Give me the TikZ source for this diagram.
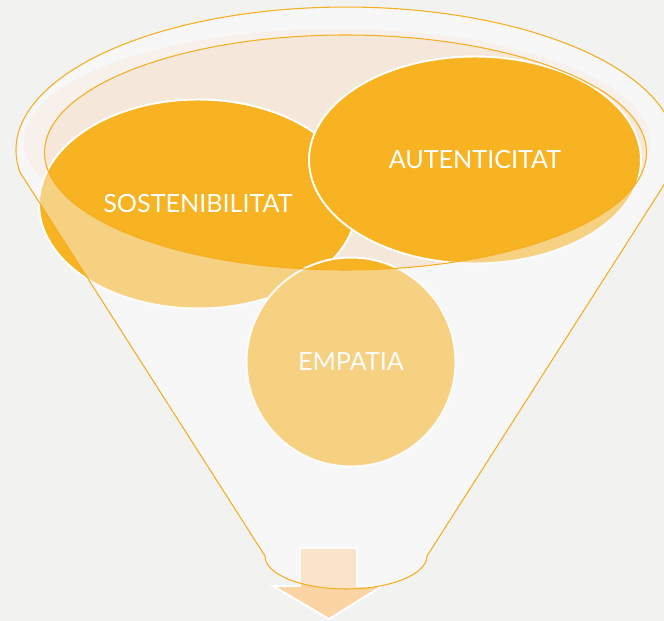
\documentclass[tikz,border=0pt]{standalone}
\usepackage{xcolor}
\usepackage{fontspec}
\setmainfont{Lato}
\usepackage{tikz}
\usetikzlibrary{positioning}
\usetikzlibrary{shapes}
\definecolor{bgGray}{HTML}{F2F2F0}
\definecolor{funnelFill}{HTML}{F7F7F7}
\definecolor{rimOrange}{HTML}{F4AE1E}
\definecolor{darkOrange}{HTML}{F7B322}
\definecolor{peachTop}{HTML}{F5E8DA}
\definecolor{peachGlow}{HTML}{F7ECE2}
\definecolor{arrowPeach}{HTML}{FCD4A4}
\tikzset{
  idea/.style={ellipse, fill=darkOrange, draw=white, line width=1.1pt,
    text=white, inner sep=0pt, font=\fontsize{14.3}{17}\selectfont},
  rim/.style={draw=rimOrange, line width=0.6pt}
}
\newcommand{\funnelpath}{(20.1,172.4) arc[start angle=171, end angle=369, x radius=330, y radius=143]
  -- (427,556) arc[start angle=0, end angle=180, x radius=81, y radius=33] -- cycle}

\begin{document}
\begin{tikzpicture}[x=0.02cm,y=-0.02cm]
  \clip (0,0) rectangle (664,621);
  \fill[bgGray] (0,0) rectangle (664,621);
  \fill[funnelFill] \funnelpath;
  \fill[peachGlow] (337,142) ellipse[x radius=313, y radius=113];
  \fill[peachTop] (345.5,152.5) ellipse[x radius=301, y radius=117.5];
  \node[idea, minimum width=6.36cm, minimum height=4.18cm] (sost) at (198,204) {SOSTENIBILITAT};
  \node[idea, minimum width=6.64cm, minimum height=4.14cm] (aut) at (475,160) {AUTENTICITAT};
  \node[idea, minimum width=4.18cm, minimum height=4.18cm] (emp) at (351,362) {EMPATIA};
  \filldraw[fill=arrowPeach, draw=white, line width=1.1pt]
    (300,548) -- (357,548) -- (357,586) -- (382,586) -- (329,619) -- (273,586) -- (300,586) -- cycle;
  \fill[funnelFill, opacity=0.45, even odd rule] \funnelpath
    (345.5,152.5) ellipse[x radius=301, y radius=117.5];
  \draw[rim] \funnelpath;
  \draw[rim] (345.5,152.5) ellipse[x radius=301, y radius=117.5];
\end{tikzpicture}
\end{document}
